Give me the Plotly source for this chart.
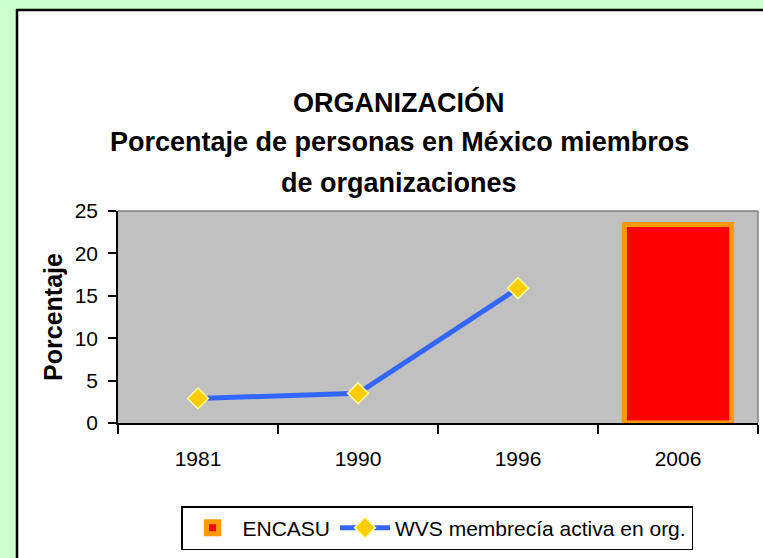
import plotly.graph_objects as go

# ---- data ----
years = ["1981", "1990", "1996", "2006"]
encasu_years = ["2006"]
encasu_values = [23.4]
wvs_years = ["1981", "1990", "1996"]
wvs_values = [2.9, 3.5, 15.9]

title_lines = [
    "ORGANIZACIÓN",
    "Porcentaje de personas en México miembros",
    "de organizaciones",
]
y_title = "Porcentaje"
y_ticks = [0, 5, 10, 15, 20, 25]

FONT = "Liberation Sans, Arial, sans-serif"

# ---- layout geometry (pixels) ----
W, H = 763, 558
L, R, T, B = 118, 5, 211, 135
pw = W - L - R
ph = H - T - B


def px_x(x):
    return (x - L) / pw


def px_y(y):
    return (H - B - y) / ph


fig = go.Figure()

fig.add_trace(go.Bar(
    x=encasu_years, y=encasu_values, name="ENCASU",
    width=0.67,
    marker=dict(color="#FF0000", line=dict(color="#FF9900", width=5)),
))
fig.add_trace(go.Scatter(
    x=wvs_years, y=wvs_values, name="WVS membrecía activa en org.",
    mode="lines+markers",
    line=dict(color="#3366FF", width=5),
    marker=dict(symbol="diamond", size=16, color="#FFCC00",
                line=dict(color="#FFFF99", width=1.5)),
))

shapes = [
    # white chart panel with black border
    dict(type="rect", xref="paper", yref="paper",
         x0=px_x(17), x1=px_x(800), y0=px_y(600), y1=px_y(10),
         fillcolor="white", line=dict(color="black", width=2.5), layer="below"),
    # grey plot area
    dict(type="rect", xref="paper", yref="paper", x0=0, x1=1, y0=0, y1=1,
         fillcolor="#C0C0C0", line=dict(width=0), layer="below"),
    # grey top and right border of plot area
    dict(type="line", xref="paper", yref="paper", x0=0, x1=1, y0=1, y1=1,
         line=dict(color="#808080", width=1.5)),
    dict(type="line", xref="paper", yref="paper", x0=1, x1=1, y0=0, y1=1,
         line=dict(color="#808080", width=1.5)),
]

annotations = []
for txt, yc in zip(title_lines, [100, 140, 181]):
    annotations.append(dict(
        text=txt, xref="paper", yref="paper", x=px_x(399), y=px_y(yc + 2),
        xanchor="center", yanchor="middle", showarrow=False,
        font=dict(family=FONT, size=27, color="black", weight="bold"),
    ))

fig.update_layout(
    width=W, height=H,
    margin=dict(l=L, r=R, t=T, b=B, pad=0),
    paper_bgcolor="#CCFFCC",
    plot_bgcolor="#C0C0C0",
    shapes=shapes,
    annotations=annotations,
    showlegend=True,
    legend=dict(
        orientation="h", x=px_x(437), xanchor="center", y=px_y(506), yanchor="top",
        bgcolor="white", bordercolor="black", borderwidth=1.5,
        font=dict(family=FONT, size=21, color="black"),
        itemwidth=50,
    ),
    font=dict(family=FONT, color="black"),
)

fig.update_xaxes(
    type="category", categoryorder="array", categoryarray=years,
    range=[-0.5, len(years) - 0.5],
    showline=True, linecolor="black", linewidth=1.5,
    ticks="outside", tickson="boundaries", ticklen=9, tickwidth=1.5, tickcolor="black",
    tickfont=dict(family=FONT, size=21, color="black"),
    ticklabelstandoff=16,
    showgrid=False, zeroline=False,
)
fig.update_yaxes(
    range=[0, 25], tickvals=y_ticks,
    showline=True, linecolor="black", linewidth=1.5,
    ticks="outside", ticklen=8, tickwidth=1.5, tickcolor="black",
    tickfont=dict(family=FONT, size=21, color="black"),
    ticklabelstandoff=6,
    showgrid=False, zeroline=False,
    title=dict(text=y_title, standoff=5,
               font=dict(family=FONT, size=25, color="black", weight="bold")),
)

fig.write_html(
    "out.html",
    config={"displayModeBar": False},
    post_script="document.body.style.margin='0';document.body.style.overflow='hidden';",
)
